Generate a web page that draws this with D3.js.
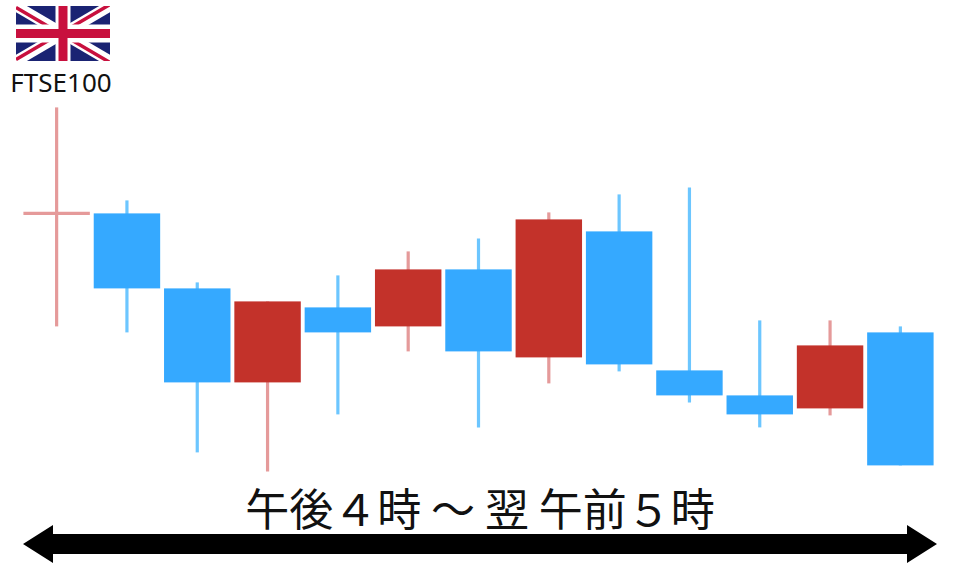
<!DOCTYPE html>
<html><head><meta charset="utf-8">
<script src="https://cdn.jsdelivr.net/npm/d3@7/dist/d3.min.js"></script>
<style>html,body{margin:0;padding:0;background:#fff}svg{display:block}</style>
</head><body><svg id="c" width="960" height="567"></svg>
<script>
// Prices in chart units
const sessions = d3.range(1, 14);
const opens  = [287, 287, 212, 118, 193, 174, 231, 143, 269, 130, 105,  92, 168];
const closes = [287, 212, 118, 199, 168, 231, 149, 281, 136, 105,  86, 155,  35];
const highs  = [393, 300, 218, 199, 225, 249, 262, 288, 306, 313, 180, 180, 174];
const lows   = [174, 168,  48,  29,  86, 149,  73, 117, 129,  98,  73,  85,  35];
const titleText = "午後４時 ～ 翌 午前５時";
const indexName = "FTSE100";
const upColor = "#c3302b", downColor = "#35a9ff";
const upWick = "#e59a9a", downWick = "#6cc6ff";

const svg = d3.select("#c");
const defs = svg.append("defs");
defs.append("filter").attr("id","soft").attr("x","-10%").attr("y","-10%").attr("width","120%").attr("height","120%")
  .append("feGaussianBlur").attr("stdDeviation",0.6);

const x = d3.scaleBand().domain(sessions).range([22, 935]).paddingInner(0.055).paddingOuter(0.02);
const y = d3.scaleLinear().domain([0, 500]).range([500.4, 0.4]);
const data = sessions.map((s,i)=>({s,o:opens[i],c:closes[i],h:highs[i],l:lows[i]}));

const g = svg.append("g").attr("filter","url(#soft)");
const cx = d => x(d.s) + x.bandwidth()/2;
g.selectAll("line.w").data(data).join("line").attr("class","w")
  .attr("x1",cx).attr("x2",cx)
  .attr("y1",d=>y(d.h)).attr("y2",d=>y(d.l))
  .attr("stroke",d=>d.c>=d.o?upWick:downWick).attr("stroke-width",3.2);
g.selectAll("rect.b").data(data).join("rect").attr("class","b")
  .attr("x",d=>x(d.s)).attr("width",x.bandwidth())
  .attr("y",d=>y(Math.max(d.o,d.c)))
  .attr("height",d=>Math.max(0,Math.abs(d.o-d.c)))
  .attr("fill",d=>d.c>=d.o?upColor:downColor);
// doji bar
g.selectAll("line.d").data(data.filter(d=>d.o===d.c)).join("line").attr("class","d")
  .attr("x1",d=>x(d.s)).attr("x2",d=>x(d.s)+x.bandwidth())
  .attr("y1",d=>y(d.o)).attr("y2",d=>y(d.o))
  .attr("stroke",upWick).attr("stroke-width",3.2);

// Union flag
const fx=16,fy=6,fw=94,fh=55;
const flag = svg.append("g").attr("transform",`translate(${fx},${fy})`);
defs.append("clipPath").attr("id","fc").append("rect").attr("width",fw).attr("height",fh);
const fl = flag.append("g").attr("clip-path","url(#fc)");
fl.append("rect").attr("width",fw).attr("height",fh).attr("fill","#1a2373");
[[0,0,fw,fh],[0,fh,fw,0]].forEach(p=>{
  fl.append("line").attr("x1",p[0]).attr("y1",p[1]).attr("x2",p[2]).attr("y2",p[3]).attr("stroke","#fff").attr("stroke-width",11);
});
fl.append("path").attr("d",`M0,0L${fw/2},${fh/2}M${fw},${fh}L${fw/2},${fh/2}`).attr("transform","translate(0,1.5)").attr("stroke","#c8103e").attr("stroke-width",3.5);
fl.append("path").attr("d",`M${fw},0L${fw/2},${fh/2}M0,${fh}L${fw/2},${fh/2}`).attr("transform","translate(0,-1.5)").attr("stroke","#c8103e").attr("stroke-width",3.5);
fl.append("rect").attr("x",fw/2-7.5).attr("width",15).attr("height",fh).attr("fill","#fff");
fl.append("rect").attr("y",fh/2-9).attr("width",fw).attr("height",18).attr("fill","#fff");
fl.append("rect").attr("x",fw/2-4.5).attr("width",9).attr("height",fh).attr("fill","#c8103e");
fl.append("rect").attr("y",fh/2-4.5).attr("width",fw).attr("height",9).attr("fill","#c8103e");

svg.append("text").attr("x",61).attr("y",92).attr("text-anchor","middle")
  .attr("font-family","'Noto Sans','Noto Sans CJK JP',sans-serif").attr("font-size",26).attr("fill","#111").text(indexName);
svg.append("text").attr("x",480).attr("y",526).attr("text-anchor","middle")
  .attr("font-family","'Noto Sans CJK JP',sans-serif").attr("font-size",44).attr("fill","#111").text(titleText);

// Double arrow
const ax = d3.scaleLinear().domain([0,1]).range([23,937]);
const mid = 544;
svg.append("path").attr("fill","#000").attr("d",d3.line()([
  [ax(0),mid],[ax(0)+30,mid-19],[ax(0)+30,mid-10],[ax(1)-30,mid-10],[ax(1)-30,mid-19],
  [ax(1),mid],[ax(1)-30,mid+19],[ax(1)-30,mid+10],[ax(0)+30,mid+10],[ax(0)+30,mid+19]
])+"Z");
</script></body></html>
